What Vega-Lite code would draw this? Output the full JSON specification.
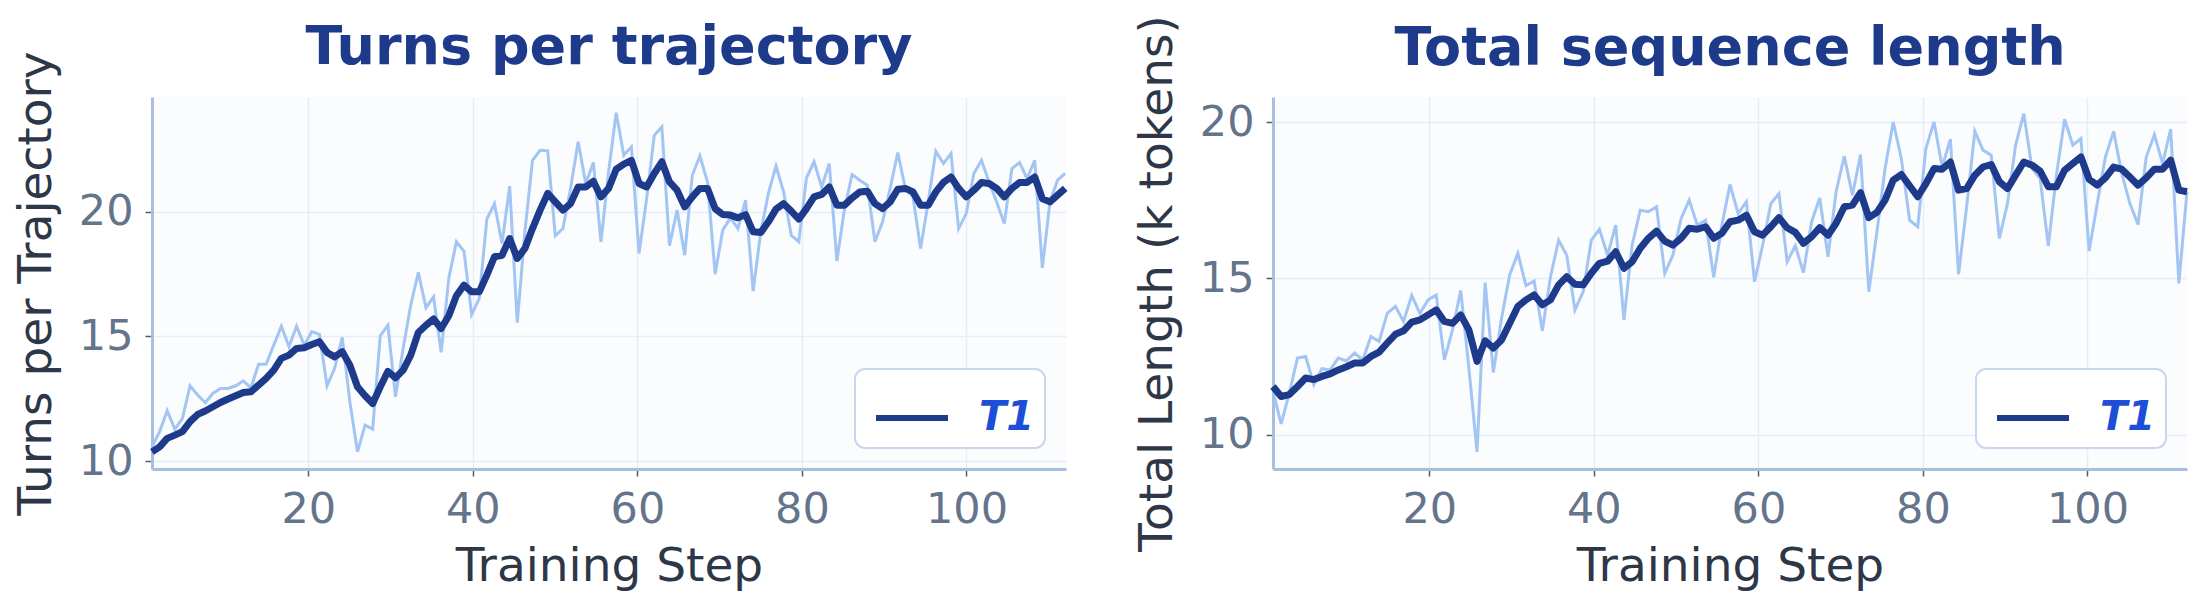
{
  "$schema": "https://vega.github.io/schema/vega-lite/v6.json",
  "background": "#ffffff",
  "padding": {"left": 12, "top": 14, "right": 16, "bottom": 6},
  "spacing": 61,
  "config": {
    "font": "DejaVu Sans",
    "view": {"stroke": null, "fill": "#fbfcfe"},
    "axis": {
      "labelFont": "DejaVu Sans",
      "labelFontSize": 43,
      "labelColor": "#64748b",
      "titleFont": "DejaVu Sans",
      "titleFontSize": 47,
      "titleFontWeight": "normal",
      "titleColor": "#2d3748",
      "gridColor": "#e5edf8",
      "gridWidth": 1.5,
      "domainColor": "#a9bfdf",
      "domainWidth": 3,
      "tickColor": "#555b66",
      "tickSize": 7,
      "tickWidth": 1.5,
      "labelPadding": 12,
      "titlePadding": 18
    },
    "title": {
      "font": "DejaVu Sans",
      "fontSize": 54,
      "fontWeight": "bold",
      "color": "#1e3a8a",
      "frame": "group"
    },
    "legend": {
      "orient": "bottom-right",
      "offset": 21,
      "fillColor": "#ffffff",
      "strokeColor": "#c8d7ee",
      "strokeWidth": 2,
      "cornerRadius": 10,
      "padding": 10,
      "symbolType": "stroke",
      "symbolStrokeWidth": 6,
      "symbolSize": 5184,
      "symbolOffset": 8,
      "labelFont": "DejaVu Sans",
      "labelFontSize": 40,
      "labelFontWeight": "bold",
      "labelFontStyle": "italic",
      "labelColor": "#1d4ed8",
      "labelOffset": 28
    }
  },
  "resolve": {"scale": {"stroke": "independent"}, "legend": {"stroke": "independent"}},
  "datasets": {
    "turns": [
      {"step": 1, "raw": 10.57, "ema": 10.37},
      {"step": 1.925, "raw": 11.18, "ema": 10.57},
      {"step": 2.85, "raw": 12.02, "ema": 10.91},
      {"step": 3.775, "raw": 11.28, "ema": 11.04},
      {"step": 4.7, "raw": 11.71, "ema": 11.18},
      {"step": 5.625, "raw": 13.02, "ema": 11.58},
      {"step": 6.55, "raw": 12.65, "ema": 11.87},
      {"step": 7.475, "raw": 12.34, "ema": 12.01},
      {"step": 8.4, "raw": 12.71, "ema": 12.18},
      {"step": 9.325, "raw": 12.91, "ema": 12.35},
      {"step": 10.25, "raw": 12.91, "ema": 12.49},
      {"step": 11.175, "raw": 13.02, "ema": 12.62},
      {"step": 12.1, "raw": 13.22, "ema": 12.75},
      {"step": 13.025, "raw": 12.94, "ema": 12.78},
      {"step": 13.95, "raw": 13.88, "ema": 13.05},
      {"step": 14.875, "raw": 13.88, "ema": 13.32},
      {"step": 15.8, "raw": 14.65, "ema": 13.65},
      {"step": 16.725, "raw": 15.41, "ema": 14.12},
      {"step": 17.65, "raw": 14.59, "ema": 14.25},
      {"step": 18.575, "raw": 15.41, "ema": 14.52},
      {"step": 19.5, "raw": 14.65, "ema": 14.55},
      {"step": 20.425, "raw": 15.19, "ema": 14.68},
      {"step": 21.35, "raw": 15.08, "ema": 14.79},
      {"step": 22.275, "raw": 13.02, "ema": 14.36},
      {"step": 23.2, "raw": 13.72, "ema": 14.18},
      {"step": 24.125, "raw": 14.96, "ema": 14.39},
      {"step": 25.05, "raw": 12.38, "ema": 13.85},
      {"step": 25.975, "raw": 10.37, "ema": 12.98},
      {"step": 26.9, "raw": 11.44, "ema": 12.62},
      {"step": 27.825, "raw": 11.28, "ema": 12.31},
      {"step": 28.75, "raw": 15.03, "ema": 12.98},
      {"step": 29.675, "raw": 15.45, "ema": 13.6},
      {"step": 30.6, "raw": 12.58, "ema": 13.34},
      {"step": 31.525, "raw": 14.52, "ema": 13.65},
      {"step": 32.45, "raw": 16.26, "ema": 14.25},
      {"step": 33.375, "raw": 17.57, "ema": 15.16},
      {"step": 34.3, "raw": 16.15, "ema": 15.45},
      {"step": 35.225, "raw": 16.59, "ema": 15.7},
      {"step": 36.15, "raw": 14.36, "ema": 15.32},
      {"step": 37.075, "raw": 17.33, "ema": 15.83},
      {"step": 38, "raw": 18.8, "ema": 16.63},
      {"step": 38.925, "raw": 18.42, "ema": 17.06},
      {"step": 39.85, "raw": 15.88, "ema": 16.79},
      {"step": 40.775, "raw": 16.52, "ema": 16.79},
      {"step": 41.7, "raw": 19.71, "ema": 17.46},
      {"step": 42.625, "raw": 20.33, "ema": 18.2},
      {"step": 43.55, "raw": 18.73, "ema": 18.26},
      {"step": 44.475, "raw": 21.03, "ema": 18.93},
      {"step": 45.4, "raw": 15.55, "ema": 18.13},
      {"step": 46.325, "raw": 19.2, "ema": 18.53},
      {"step": 47.25, "raw": 22.07, "ema": 19.33},
      {"step": 48.175, "raw": 22.47, "ema": 20.07},
      {"step": 49.1, "raw": 22.45, "ema": 20.74},
      {"step": 50.025, "raw": 19.04, "ema": 20.4},
      {"step": 50.95, "raw": 19.33, "ema": 20.07},
      {"step": 51.875, "raw": 20.94, "ema": 20.33},
      {"step": 52.8, "raw": 22.81, "ema": 21.0},
      {"step": 53.725, "raw": 21.14, "ema": 21.0},
      {"step": 54.65, "raw": 21.98, "ema": 21.23},
      {"step": 55.575, "raw": 18.8, "ema": 20.6},
      {"step": 56.5, "raw": 21.6, "ema": 20.94},
      {"step": 57.425, "raw": 23.98, "ema": 21.71},
      {"step": 58.35, "raw": 22.27, "ema": 21.92},
      {"step": 59.275, "raw": 22.61, "ema": 22.07},
      {"step": 60.2, "raw": 18.33, "ema": 21.14},
      {"step": 61.125, "raw": 20.53, "ema": 21.0},
      {"step": 62.05, "raw": 23.07, "ema": 21.54},
      {"step": 62.975, "raw": 23.41, "ema": 22.01},
      {"step": 63.9, "raw": 18.64, "ema": 21.2},
      {"step": 64.825, "raw": 20.07, "ema": 20.87},
      {"step": 65.75, "raw": 18.26, "ema": 20.2},
      {"step": 66.675, "raw": 21.47, "ema": 20.6},
      {"step": 67.6, "raw": 22.25, "ema": 20.94},
      {"step": 68.525, "raw": 21.2, "ema": 20.94},
      {"step": 69.45, "raw": 17.5, "ema": 20.13},
      {"step": 70.375, "raw": 19.26, "ema": 19.89},
      {"step": 71.3, "raw": 19.76, "ema": 19.87},
      {"step": 72.225, "raw": 19.33, "ema": 19.76},
      {"step": 73.15, "raw": 20.47, "ema": 19.89},
      {"step": 74.075, "raw": 16.82, "ema": 19.2},
      {"step": 75, "raw": 19.2, "ema": 19.17},
      {"step": 75.925, "raw": 20.74, "ema": 19.6},
      {"step": 76.85, "raw": 21.84, "ema": 20.11},
      {"step": 77.775, "raw": 20.8, "ema": 20.33},
      {"step": 78.7, "raw": 19.06, "ema": 20.03},
      {"step": 79.625, "raw": 18.8, "ema": 19.71},
      {"step": 80.55, "raw": 21.36, "ema": 20.13},
      {"step": 81.475, "raw": 22.01, "ema": 20.6},
      {"step": 82.4, "raw": 21.0, "ema": 20.7},
      {"step": 83.325, "raw": 21.94, "ema": 21.0},
      {"step": 84.25, "raw": 18.03, "ema": 20.27},
      {"step": 85.175, "raw": 20.11, "ema": 20.27},
      {"step": 86.1, "raw": 21.5, "ema": 20.56},
      {"step": 87.025, "raw": 21.27, "ema": 20.8},
      {"step": 87.95, "raw": 21.07, "ema": 20.83},
      {"step": 88.875, "raw": 18.8, "ema": 20.33},
      {"step": 89.8, "raw": 19.6, "ema": 20.13},
      {"step": 90.725, "raw": 20.94, "ema": 20.4},
      {"step": 91.65, "raw": 22.38, "ema": 20.91},
      {"step": 92.575, "raw": 20.94, "ema": 20.94},
      {"step": 93.5, "raw": 20.6, "ema": 20.8},
      {"step": 94.425, "raw": 18.53, "ema": 20.27},
      {"step": 95.35, "raw": 20.4, "ema": 20.27},
      {"step": 96.275, "raw": 22.43, "ema": 20.8},
      {"step": 97.2, "raw": 21.94, "ema": 21.18},
      {"step": 98.125, "raw": 22.34, "ema": 21.4},
      {"step": 99.05, "raw": 19.33, "ema": 20.94},
      {"step": 99.975, "raw": 19.93, "ema": 20.6},
      {"step": 100.9, "raw": 21.54, "ema": 20.87},
      {"step": 101.825, "raw": 22.07, "ema": 21.18},
      {"step": 102.75, "raw": 21.2, "ema": 21.14},
      {"step": 103.675, "raw": 20.4, "ema": 20.94},
      {"step": 104.6, "raw": 19.53, "ema": 20.6},
      {"step": 105.525, "raw": 21.74, "ema": 20.94},
      {"step": 106.45, "raw": 21.98, "ema": 21.18},
      {"step": 107.375, "raw": 21.34, "ema": 21.18},
      {"step": 108.3, "raw": 22.07, "ema": 21.4},
      {"step": 109.225, "raw": 17.75, "ema": 20.53},
      {"step": 110.15, "raw": 20.4, "ema": 20.4},
      {"step": 111.075, "raw": 21.27, "ema": 20.67},
      {"step": 112, "raw": 21.54, "ema": 20.94}
    ],
    "length": [
      {"step": 1, "raw": 11.38, "ema": 11.54},
      {"step": 1.99, "raw": 10.34, "ema": 11.22},
      {"step": 2.98, "raw": 11.33, "ema": 11.28},
      {"step": 3.98, "raw": 12.45, "ema": 11.54},
      {"step": 4.97, "raw": 12.5, "ema": 11.81},
      {"step": 5.96, "raw": 11.6, "ema": 11.76},
      {"step": 6.95, "raw": 12.11, "ema": 11.86},
      {"step": 7.94, "raw": 12.07, "ema": 11.94},
      {"step": 8.94, "raw": 12.45, "ema": 12.07},
      {"step": 9.93, "raw": 12.36, "ema": 12.17},
      {"step": 10.92, "raw": 12.61, "ema": 12.29},
      {"step": 11.91, "raw": 12.39, "ema": 12.29},
      {"step": 12.9, "raw": 13.14, "ema": 12.5},
      {"step": 13.9, "raw": 12.98, "ema": 12.64},
      {"step": 14.89, "raw": 13.88, "ema": 12.93},
      {"step": 15.88, "raw": 14.1, "ema": 13.21},
      {"step": 16.87, "raw": 13.62, "ema": 13.32},
      {"step": 17.86, "raw": 14.45, "ema": 13.6},
      {"step": 18.86, "raw": 13.88, "ema": 13.67},
      {"step": 19.85, "raw": 14.31, "ema": 13.83},
      {"step": 20.84, "raw": 14.47, "ema": 13.99},
      {"step": 21.83, "raw": 12.39, "ema": 13.62},
      {"step": 22.82, "raw": 13.35, "ema": 13.56},
      {"step": 23.82, "raw": 14.61, "ema": 13.83},
      {"step": 24.81, "raw": 12.13, "ema": 13.35},
      {"step": 25.8, "raw": 9.45, "ema": 12.34},
      {"step": 26.79, "raw": 14.86, "ema": 13.0},
      {"step": 27.78, "raw": 11.99, "ema": 12.77},
      {"step": 28.78, "raw": 13.72, "ema": 13.03},
      {"step": 29.77, "raw": 15.11, "ema": 13.56},
      {"step": 30.76, "raw": 15.8, "ema": 14.1},
      {"step": 31.75, "raw": 14.77, "ema": 14.31},
      {"step": 32.74, "raw": 14.91, "ema": 14.47},
      {"step": 33.74, "raw": 13.32, "ema": 14.15},
      {"step": 34.73, "raw": 15.05, "ema": 14.31},
      {"step": 35.72, "raw": 16.22, "ema": 14.79},
      {"step": 36.71, "raw": 15.74, "ema": 15.05},
      {"step": 37.7, "raw": 13.99, "ema": 14.81},
      {"step": 38.7, "raw": 14.57, "ema": 14.79},
      {"step": 39.69, "raw": 16.22, "ema": 15.16},
      {"step": 40.68, "raw": 16.57, "ema": 15.48},
      {"step": 41.67, "raw": 15.74, "ema": 15.55},
      {"step": 42.66, "raw": 16.7, "ema": 15.85},
      {"step": 43.66, "raw": 13.67, "ema": 15.32},
      {"step": 44.65, "raw": 16.06, "ema": 15.53},
      {"step": 45.64, "raw": 17.18, "ema": 15.96},
      {"step": 46.63, "raw": 17.13, "ema": 16.28},
      {"step": 47.62, "raw": 17.29, "ema": 16.51},
      {"step": 48.62, "raw": 15.16, "ema": 16.19},
      {"step": 49.61, "raw": 15.74, "ema": 16.06},
      {"step": 50.6, "raw": 16.91, "ema": 16.28},
      {"step": 51.59, "raw": 17.5, "ema": 16.6},
      {"step": 52.58, "raw": 16.7, "ema": 16.57},
      {"step": 53.58, "raw": 16.86, "ema": 16.65},
      {"step": 54.57, "raw": 15.03, "ema": 16.28},
      {"step": 55.56, "raw": 16.7, "ema": 16.44},
      {"step": 56.55, "raw": 18.0, "ema": 16.81},
      {"step": 57.54, "raw": 17.07, "ema": 16.86},
      {"step": 58.54, "raw": 17.45, "ema": 17.02},
      {"step": 59.53, "raw": 14.89, "ema": 16.49},
      {"step": 60.52, "raw": 16.06, "ema": 16.38},
      {"step": 61.51, "raw": 17.39, "ema": 16.65},
      {"step": 62.5, "raw": 17.71, "ema": 16.94},
      {"step": 63.5, "raw": 15.53, "ema": 16.62},
      {"step": 64.49, "raw": 16.04, "ema": 16.47},
      {"step": 65.48, "raw": 15.18, "ema": 16.12},
      {"step": 66.47, "raw": 16.81, "ema": 16.33},
      {"step": 67.46, "raw": 17.57, "ema": 16.62},
      {"step": 68.46, "raw": 15.69, "ema": 16.38},
      {"step": 69.45, "raw": 17.77, "ema": 16.76},
      {"step": 70.44, "raw": 18.91, "ema": 17.29},
      {"step": 71.43, "raw": 17.66, "ema": 17.34},
      {"step": 72.42, "raw": 18.96, "ema": 17.74},
      {"step": 73.42, "raw": 14.57, "ema": 16.94},
      {"step": 74.41, "raw": 16.49, "ema": 17.11},
      {"step": 75.4, "raw": 18.51, "ema": 17.5},
      {"step": 76.39, "raw": 20.0, "ema": 18.14},
      {"step": 77.38, "raw": 18.83, "ema": 18.32},
      {"step": 78.38, "raw": 16.86, "ema": 17.96},
      {"step": 79.37, "raw": 16.65, "ema": 17.61},
      {"step": 80.36, "raw": 19.15, "ema": 18.03},
      {"step": 81.35, "raw": 20.0, "ema": 18.51},
      {"step": 82.34, "raw": 18.56, "ema": 18.49},
      {"step": 83.34, "raw": 19.45, "ema": 18.72},
      {"step": 84.33, "raw": 15.13, "ema": 17.82},
      {"step": 85.32, "raw": 17.3, "ema": 17.87},
      {"step": 86.31, "raw": 19.7, "ema": 18.3},
      {"step": 87.3, "raw": 19.1, "ema": 18.56},
      {"step": 88.3, "raw": 18.94, "ema": 18.64},
      {"step": 89.29, "raw": 16.28, "ema": 18.09},
      {"step": 90.28, "raw": 17.39, "ema": 17.87},
      {"step": 91.27, "raw": 19.26, "ema": 18.3},
      {"step": 92.26, "raw": 20.27, "ema": 18.72},
      {"step": 93.26, "raw": 18.51, "ema": 18.62},
      {"step": 94.25, "raw": 18.19, "ema": 18.43},
      {"step": 95.24, "raw": 16.04, "ema": 17.93},
      {"step": 96.23, "raw": 18.3, "ema": 17.93},
      {"step": 97.22, "raw": 20.09, "ema": 18.46},
      {"step": 98.22, "raw": 19.26, "ema": 18.67},
      {"step": 99.21, "raw": 19.47, "ema": 18.88},
      {"step": 100.2, "raw": 15.87, "ema": 18.17},
      {"step": 101.19, "raw": 17.39, "ema": 17.98},
      {"step": 102.18, "raw": 18.88, "ema": 18.21},
      {"step": 103.18, "raw": 19.7, "ema": 18.56},
      {"step": 104.17, "raw": 18.35, "ema": 18.49},
      {"step": 105.16, "raw": 17.39, "ema": 18.24},
      {"step": 106.15, "raw": 16.72, "ema": 17.98},
      {"step": 107.14, "raw": 18.88, "ema": 18.21},
      {"step": 108.14, "raw": 19.6, "ema": 18.49},
      {"step": 109.13, "raw": 18.67, "ema": 18.49},
      {"step": 110.12, "raw": 19.77, "ema": 18.78},
      {"step": 111.11, "raw": 14.84, "ema": 17.82},
      {"step": 112.1, "raw": 17.77, "ema": 17.77}
    ]
  },
  "hconcat": [
    {
      "title": {"text": "Turns per trajectory", "offset": -24},
      "width": 914,
      "height": 372,
      "data": {"name": "turns"},
      "layer": [
        {
          "mark": {"type": "line", "stroke": "#a3c5f4", "strokeWidth": 3},
          "encoding": {
            "x": {
              "field": "step",
              "type": "quantitative",
              "scale": {"domain": [1, 112.1], "nice": false},
              "axis": {"values": [20, 40, 60, 80, 100], "title": "Training Step", "titlePadding": 12}
            },
            "y": {
              "field": "raw",
              "type": "quantitative",
              "scale": {"domain": [9.68, 24.61], "nice": false, "zero": false},
              "axis": {"values": [10, 15, 20], "title": "Turns per Trajectory"}
            }
          }
        },
        {
          "mark": {"type": "line", "strokeWidth": 7, "strokeJoin": "round"},
          "encoding": {
            "x": {"field": "step", "type": "quantitative"},
            "y": {"field": "ema", "type": "quantitative"},
            "stroke": {
              "datum": "T1",
              "type": "nominal",
              "scale": {"range": ["#1e3a8a"]},
              "legend": {"title": null}
            }
          }
        }
      ]
    },
    {
      "title": {"text": "Total sequence length", "offset": -61},
      "width": 914,
      "height": 372,
      "data": {"name": "length"},
      "layer": [
        {
          "mark": {"type": "line", "stroke": "#a3c5f4", "strokeWidth": 3},
          "encoding": {
            "x": {
              "field": "step",
              "type": "quantitative",
              "scale": {"domain": [1, 112.1], "nice": false},
              "axis": {"values": [20, 40, 60, 80, 100], "title": "Training Step", "titlePadding": 12}
            },
            "y": {
              "field": "raw",
              "type": "quantitative",
              "scale": {"domain": [8.9, 20.8], "nice": false, "zero": false},
              "axis": {"values": [10, 15, 20], "title": "Total Length (k tokens)"}
            }
          }
        },
        {
          "mark": {"type": "line", "strokeWidth": 7, "strokeJoin": "round"},
          "encoding": {
            "x": {"field": "step", "type": "quantitative"},
            "y": {"field": "ema", "type": "quantitative"},
            "stroke": {
              "datum": "T1",
              "type": "nominal",
              "scale": {"range": ["#1e3a8a"]},
              "legend": {"title": null}
            }
          }
        }
      ]
    }
  ]
}
